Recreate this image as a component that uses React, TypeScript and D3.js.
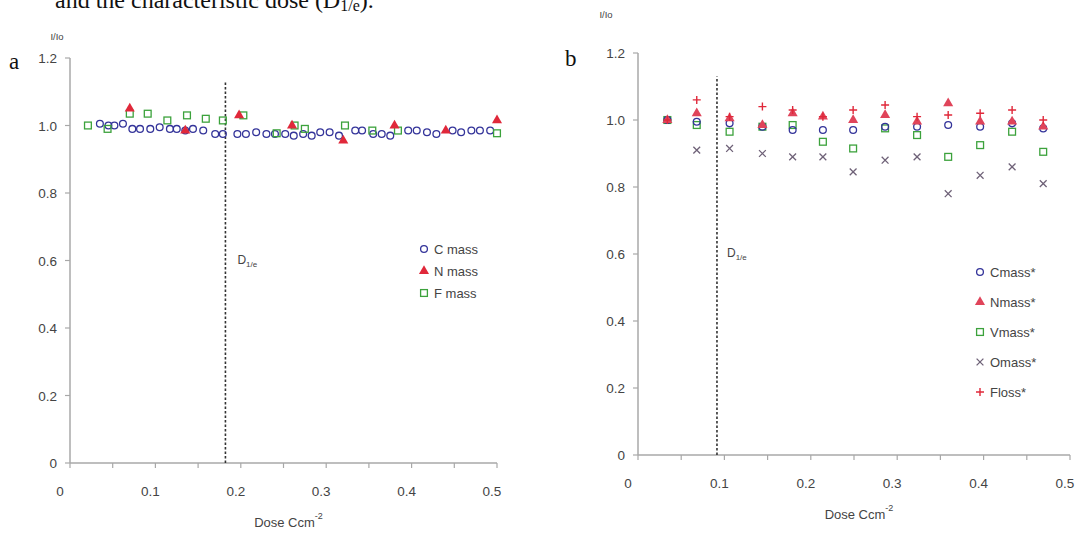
import * as d3 from 'd3';

// ---- panel a data ----
const cMassDose = [0.035, 0.045, 0.052, 0.062, 0.073, 0.082, 0.094, 0.105, 0.117, 0.125, 0.135, 0.144, 0.156, 0.17, 0.179, 0.196, 0.206, 0.218, 0.23, 0.24, 0.252, 0.262, 0.273, 0.283, 0.293, 0.304, 0.315, 0.334, 0.342, 0.355, 0.365, 0.375, 0.396, 0.406, 0.418, 0.429, 0.448, 0.458, 0.47, 0.48, 0.492];
const cMassVal = [1.005, 1.0, 1.0, 1.005, 0.99, 0.99, 0.99, 0.995, 0.99, 0.99, 0.985, 0.99, 0.985, 0.975, 0.975, 0.975, 0.975, 0.98, 0.975, 0.975, 0.975, 0.97, 0.975, 0.97, 0.98, 0.98, 0.97, 0.985, 0.985, 0.975, 0.975, 0.97, 0.985, 0.985, 0.98, 0.975, 0.985, 0.98, 0.985, 0.985, 0.985];
const nMassDose = [0.07, 0.135, 0.198, 0.26, 0.32, 0.38, 0.44, 0.5];
const nMassVal = [1.05, 0.985, 1.03, 1.0, 0.955, 1.0, 0.985, 1.015];
const fMassDose = [0.021, 0.044, 0.07, 0.091, 0.114, 0.137, 0.159, 0.179, 0.203, 0.242, 0.263, 0.275, 0.322, 0.354, 0.384, 0.5];
const fMassVal = [1.0, 0.99, 1.035, 1.035, 1.015, 1.03, 1.02, 1.015, 1.03, 0.977, 1.0, 0.99, 1.0, 0.985, 0.985, 0.977];

// ---- panel b data ----
const doseB = [0.034, 0.068, 0.106, 0.144, 0.179, 0.214, 0.249, 0.286, 0.323, 0.359, 0.396, 0.433, 0.469];
const cMassB = [1.0, 0.995, 0.99, 0.98, 0.97, 0.97, 0.97, 0.98, 0.98, 0.985, 0.98, 0.99, 0.975];
const nMassB = [1.0, 1.02, 1.005, 0.985, 1.02, 1.01, 1.0, 1.015, 0.995, 1.05, 0.995, 0.995, 0.98];
const vMassB = [1.0, 0.985, 0.965, 0.98, 0.985, 0.935, 0.915, 0.975, 0.955, 0.89, 0.925, 0.965, 0.905];
const oMassB = [1.0, 0.91, 0.915, 0.9, 0.89, 0.89, 0.845, 0.88, 0.89, 0.78, 0.835, 0.86, 0.81];
const fLossB = [1.0, 1.06, 1.01, 1.04, 1.03, 1.01, 1.03, 1.045, 1.01, 1.015, 1.02, 1.03, 1.0];

const xTicks = [0, 0.05, 0.1, 0.15, 0.2, 0.25, 0.3, 0.35, 0.4, 0.45, 0.5];
const xLabels = ['0', '0.1', '0.2', '0.3', '0.4', '0.5'];
const yLabels = ['0', '0.2', '0.4', '0.6', '0.8', '1.0', '1.2'];

const FONT = 'Liberation Sans, Arial, sans-serif';
const SERIF = 'Liberation Serif, Times New Roman, serif';
const AXIS = '#a8a8a8';
const TXT = '#444';

const COLORS = {
  blue: '#34349a',
  red: '#e0283a',
  green: '#3ca23c',
  grey: '#6f6278',
  pink: '#e0445a',
};

const marker = (kind, color, x, y, key) => {
  const s = 3.4;
  if (kind === 'circle')
    return <circle key={key} cx={x} cy={y} r={s} fill="none" stroke={color} strokeWidth={1.3} />;
  if (kind === 'square')
    return <rect key={key} x={x - s} y={y - s} width={2 * s} height={2 * s} fill="none" stroke={color} strokeWidth={1.3} />;
  if (kind === 'triangle')
    return <path key={key} d={d3.symbol(d3.symbolTriangle, 44)()} transform={`translate(${x},${y})`} fill={color} />;
  if (kind === 'x')
    return <path key={key} d={`M${x - s},${y - s}L${x + s},${y + s}M${x - s},${y + s}L${x + s},${y - s}`} stroke={color} strokeWidth={1.3} />;
  return <path key={key} d={`M${x - 4},${y}L${x + 4},${y}M${x},${y - 4}L${x},${y + 4}`} stroke={color} strokeWidth={1.4} />;
};

const Panel = ({ box, series, legend, dashAt, dashTop, dLabel, ioPos }) => {
  const x = d3.scaleLinear().domain([0, 0.5]).range([box.left, box.right]);
  const y = d3.scaleLinear().domain([0, 1.2]).range([box.bottom, box.top]);
  return (
    <g>
      {/* axes */}
      <line x1={box.left} x2={box.left} y1={y(0)} y2={y(1.2)} stroke={AXIS} strokeWidth={1.5} />
      <line x1={box.left} x2={x(0.5)} y1={y(0)} y2={y(0)} stroke={AXIS} strokeWidth={1.5} />
      {yLabels.map((l, i) => (
        <g key={l}>
          <line x1={box.left - 5} x2={box.left} y1={y(i * 0.2)} y2={y(i * 0.2)} stroke={AXIS} strokeWidth={1.2} />
          <text x={box.left - 13} y={y(i * 0.2) + 5} textAnchor="end" fontSize={13.5} fill={TXT} fontFamily={FONT}>{l}</text>
        </g>
      ))}
      {xTicks.map(t => (
        <line key={t} x1={x(t)} x2={x(t)} y1={y(0)} y2={y(0) + 5} stroke={AXIS} strokeWidth={1.2} />
      ))}
      {xLabels.map((l, i) => (
        <text key={l} x={x(i * 0.1) - (i === 0 ? 10 : 5)} y={box.bottom + 33} textAnchor="middle" fontSize={13.5} fill={TXT} fontFamily={FONT}>{l}</text>
      ))}
      <text x={(box.left + box.right) / 2 + 5} y={box.bottom + 64} textAnchor="middle" fontSize={13} fill={TXT} fontFamily={FONT}>
        Dose Ccm<tspan dy={-8} fontSize={9}>-2</tspan>
      </text>
      <text x={ioPos[0]} y={ioPos[1]} textAnchor="middle" fontSize={9.5} fill={TXT} fontFamily={FONT}>I/Io</text>

      {/* characteristic dose */}
      <line x1={x(dashAt)} x2={x(dashAt)} y1={y(0)} y2={y(dashTop)} stroke="#333" strokeWidth={1.6} strokeDasharray="2.5,2" />
      <text x={x(dashAt) + dLabel} y={y(0.59)} fontSize={12} fill={TXT} fontFamily={FONT}>
        D<tspan fontSize={8} dy={3}>1/e</tspan>
      </text>

      {/* data */}
      {series.map(s => s.dose.map((d, i) => marker(s.kind, s.color, x(d), y(s.val[i]), `${s.name}-${i}`)))}

      {/* legend */}
      {legend.items.map((s, i) => (
        <g key={s.name}>
          {marker(s.kind, s.color, legend.x, legend.y + i * legend.step, 'lg')}
          <text x={legend.x + 10} y={legend.y + i * legend.step + 5} fontSize={13} fill={TXT} fontFamily={FONT}>{s.name}</text>
        </g>
      ))}
    </g>
  );
};

const seriesA = [
  { name: 'C mass', kind: 'circle', color: COLORS.blue, dose: cMassDose, val: cMassVal },
  { name: 'F mass', kind: 'square', color: COLORS.green, dose: fMassDose, val: fMassVal },
  { name: 'N mass', kind: 'triangle', color: COLORS.red, dose: nMassDose, val: nMassVal },
];
const legendA = [seriesA[0], seriesA[2], seriesA[1]];

const seriesB = [
  { name: 'Omass*', kind: 'x', color: COLORS.grey, dose: doseB, val: oMassB },
  { name: 'Vmass*', kind: 'square', color: COLORS.green, dose: doseB, val: vMassB },
  { name: 'Cmass*', kind: 'circle', color: COLORS.blue, dose: doseB, val: cMassB },
  { name: 'Nmass*', kind: 'triangle', color: COLORS.pink, dose: doseB, val: nMassB },
  { name: 'Floss*', kind: 'plus', color: COLORS.red, dose: doseB, val: fLossB },
];
const legendB = [seriesB[2], seriesB[3], seriesB[1], seriesB[0], seriesB[4]];

export default function App() {
  return (
    <div style={{ position: 'absolute', left: 0, top: 0 }}>
      <svg width={1086} height={554} style={{ display: 'block', background: '#fff' }}>
        <text x={55} y={8} fontSize={24} fontFamily={SERIF} fill="#111">
          and the characteristic dose (D<tspan fontSize={16} dy={3}>1/e</tspan><tspan dy={-3}>).</tspan>
        </text>
        <text x={9} y={69} fontSize={23} fontFamily={SERIF} fill="#111">a</text>
        <text x={565} y={66} fontSize={23} fontFamily={SERIF} fill="#111">b</text>
        <Panel
          box={{ left: 70, right: 497, top: 58, bottom: 463 }}
          series={seriesA}
          legend={{ items: legendA, x: 424, y: 249, step: 22 }}
          dashAt={0.182}
          dashTop={1.13}
          dLabel={12}
          ioPos={[57, 40]}
        />
        <Panel
          box={{ left: 638, right: 1070, top: 53, bottom: 455 }}
          series={seriesB}
          legend={{ items: legendB, x: 980, y: 272, step: 30 }}
          dashAt={0.0914}
          dashTop={1.13}
          dLabel={10}
          ioPos={[606, 18]}
        />
      </svg>
    </div>
  );
}
